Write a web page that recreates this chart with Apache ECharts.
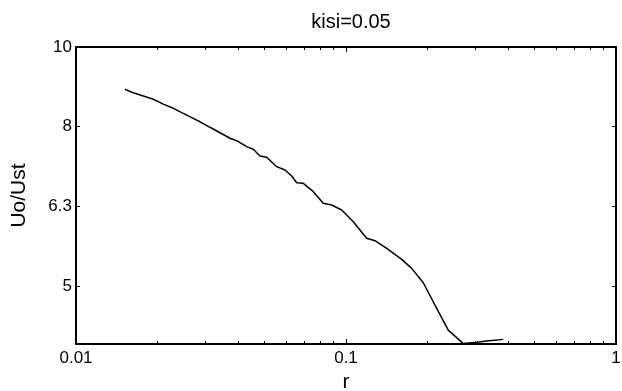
<!DOCTYPE html>
<html>
<head>
<meta charset="utf-8">
<script src="https://cdn.jsdelivr.net/npm/echarts@6/dist/echarts.min.js"></script>
<style>html,body{margin:0;padding:0;background:#fff;}#c{width:622px;height:391px;}</style>
</head>
<body>
<div id="c"></div>
<script>
const titleText = 'kisi=0.05';
const xName = 'r';
const yName = 'Uo/Ust';
const rValues = [0.01518,0.01631,0.01776,0.01934,0.02105,0.02293,0.02496,0.02719,0.02879,0.03135,0.03415,0.03719,0.03937,0.04287,0.04536,0.04802,0.05085,0.05537,0.05943,0.06293,0.06567,0.06948,0.07567,0.08239,0.08851,0.09641,0.1064,0.1193,0.1281,0.1415,0.1608,0.1751,0.1933,0.2136,0.2392,0.2713,0.3005,0.3320,0.3825];
const uValues = [8.85,8.76,8.681,8.60,8.48,8.377,8.256,8.137,8.057,7.93,7.806,7.682,7.629,7.498,7.441,7.299,7.272,7.077,7.009,6.889,6.757,6.745,6.584,6.366,6.335,6.244,6.036,5.754,5.714,5.589,5.414,5.275,5.061,4.745,4.414,4.247,4.259,4.276,4.297];
const xMajorTicks = [0.01, 0.1, 1];
const xMajorLabels = ['0.01', '0.1', '1'];
const xMinorTicks = [0.02,0.03,0.04,0.05,0.06,0.07,0.08,0.09,0.2,0.3,0.4,0.5,0.6,0.7,0.8,0.9];
const yTicks = [5.012, 6.310, 7.943, 10];
const yTickLabels = ['5', '6.3', '8', '10'];
const xRange = [0.01, 1];
const yRange = [4.24, 10];

const FONT = 'Liberation Sans, Arial, sans-serif';
function labelFor(ticks, labels) {
  return function (v) {
    for (let i = 0; i < ticks.length; i++) {
      if (Math.abs(Math.log10(v) - Math.log10(ticks[i])) < 1e-4) return labels[i];
    }
    return '';
  };
}
const lineStyle = {color: '#000', width: 2};
function xAx(pos, major, showLine, showLabel) {
  return {
    type: 'log', logBase: 10, min: xRange[0], max: xRange[1], position: pos,
    axisLine: {show: showLine, onZero: false, lineStyle: lineStyle},
    axisTick: {show: true, inside: true, length: major ? 5 : 3, customValues: major ? xMajorTicks : xMinorTicks, lineStyle: {color: '#000', width: 1}},
    axisLabel: {show: showLabel, customValues: xMajorTicks, formatter: labelFor(xMajorTicks, xMajorLabels), color: '#000', fontFamily: FONT, fontSize: 17, margin: 6},
    splitLine: {show: false}, minorTick: {show: false},
    name: showLabel ? xName : '', nameLocation: 'middle', nameGap: 26,
    nameTextStyle: {color: '#000', fontFamily: FONT, fontSize: 21}
  };
}
function yAx(pos, showLabel) {
  return {
    type: 'log', logBase: 10, min: yRange[0], max: yRange[1], position: pos,
    axisLine: {show: true, onZero: false, lineStyle: lineStyle},
    axisTick: {show: true, inside: true, length: 4, customValues: yTicks, lineStyle: {color: '#000', width: 1}},
    axisLabel: {show: showLabel, customValues: yTicks, formatter: labelFor(yTicks, yTickLabels), color: '#000', fontFamily: FONT, fontSize: 17, margin: 4},
    splitLine: {show: false}, minorTick: {show: false},
    name: showLabel ? yName : '', nameLocation: 'middle', nameGap: 46,
    nameTextStyle: {color: '#000', fontFamily: FONT, fontSize: 21}
  };
}
const chart = echarts.init(document.getElementById('c'), null, {renderer: 'canvas'});
chart.setOption({
  animation: false,
  backgroundColor: '#fff',
  title: {text: titleText, left: 346, top: 7, textAlign: 'center',
    textStyle: {color: '#000', fontFamily: FONT, fontSize: 20, fontWeight: 'normal'}},
  grid: {left: 76, right: 6, top: 47, bottom: 47, containLabel: false, outerBoundsMode: 'none'},
  xAxis: [xAx('bottom', true, true, true), xAx('bottom', false, false, false), xAx('top', true, true, false), xAx('top', false, false, false)],
  yAxis: [yAx('left', true), yAx('right', false)],
  series: [{
    type: 'line', xAxisIndex: 0, yAxisIndex: 0, showSymbol: false, symbol: 'none', smooth: false,
    lineStyle: {color: '#000', width: 1.5},
    data: rValues.map((r, i) => [r, uValues[i]])
  }]
});
</script>
</body>
</html>
